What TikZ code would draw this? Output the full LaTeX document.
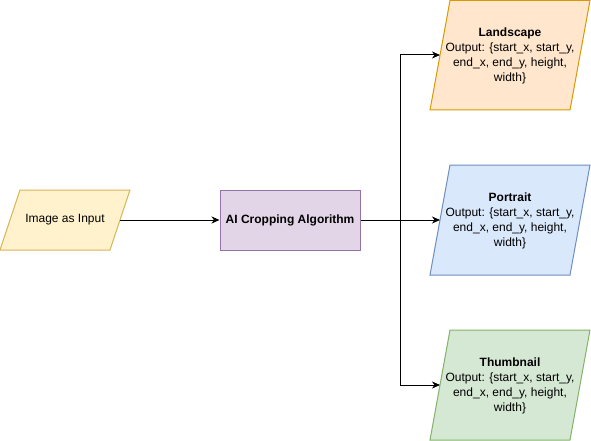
\documentclass[tikz,border=0pt]{standalone}
\usepackage{fontspec}
\setmainfont{Liberation Sans}
\usetikzlibrary{arrows.meta}
\definecolor{yfill}{HTML}{FFF2CC}\definecolor{ydraw}{HTML}{D6B656}
\definecolor{pfill}{HTML}{E1D5E7}\definecolor{pdraw}{HTML}{9673A6}
\definecolor{ofill}{HTML}{FFE6CC}\definecolor{odraw}{HTML}{D79B00}
\definecolor{bfill}{HTML}{DAE8FC}\definecolor{bdraw}{HTML}{6C8EBF}
\definecolor{gfill}{HTML}{D5E8D4}\definecolor{gdraw}{HTML}{82B366}
\begin{document}
\begin{tikzpicture}[x=1pt,y=-1pt,
  shp/.style={line width=1pt},
  lbl/.style={font=\fontsize{12}{15}\selectfont, align=center, inner sep=0pt},
  conn/.style={line width=1pt, -{Stealth[length=8pt,width=7pt,inset=2.5pt]}},
  line/.style={line width=1pt}]
\useasboundingbox (0,0) rectangle (591,441);
% input
\draw[shp, fill=yfill, draw=ydraw] (20,190) -- (130,190) -- (110,250) -- (0,250) -- cycle;
\node[lbl] (input) at (65,220) {Image as Input};
\coordinate (inR) at (120,220);
% AI box
\node[shp, fill=pfill, draw=pdraw, minimum width=140pt, minimum height=60pt, inner sep=0pt,
  font=\fontsize{12}{15}\selectfont\bfseries] (ai) at (290,220) {AI Cropping Algorithm};
% outputs
\draw[shp, fill=ofill, draw=odraw] (450,0.5) -- (590,0.5) -- (570,110) -- (430,110) -- cycle;
\node[lbl] (land) at (510,55.5) {\textbf{Landscape}\\Output: \{start\_x, start\_y,\\end\_x, end\_y, height,\\width\}};
\coordinate (landL) at (440,55);
\draw[shp, fill=bfill, draw=bdraw] (450,165) -- (590,165) -- (570,275) -- (430,275) -- cycle;
\node[lbl] (port) at (510,220.5) {\textbf{Portrait}\\Output: \{start\_x, start\_y,\\end\_x, end\_y, height,\\width\}};
\coordinate (portL) at (440,220);
\draw[shp, fill=gfill, draw=gdraw] (450,330) -- (590,330) -- (570,440) -- (430,440) -- cycle;
\node[lbl] (thumb) at (510,385.5) {\textbf{Thumbnail}\\Output: \{start\_x, start\_y,\\end\_x, end\_y, height,\\width\}};
\coordinate (thumbL) at (440,385);
% connectors
\coordinate (split) at (400,220);
\draw[conn] (inR) -- (ai.west);
\draw[conn] (ai.east) -- (portL);
\draw[line] (split) -- (400,55);
\draw[line] (split) -- (400,385);
\draw[conn] (400,55) -- (landL);
\draw[conn] (400,385) -- (thumbL);
\end{tikzpicture}
\end{document}
